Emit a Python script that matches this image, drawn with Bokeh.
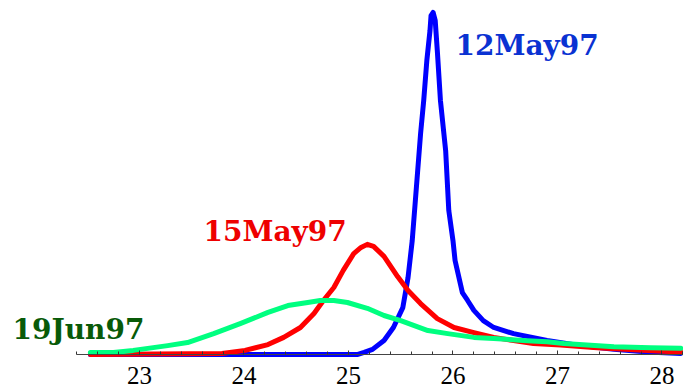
from bokeh.plotting import figure
from bokeh.models import LinearAxis, SingleIntervalTicker, Range1d, Label
from bokeh.embed import file_html
from bokeh.resources import INLINE

# Data (x: position, y: normalised intensity)
blue_x = [22.53, 25.09, 25.15, 25.23, 25.34, 25.43, 25.52, 25.57, 25.61, 25.64, 25.69, 25.72,
          25.75, 25.78, 25.79, 25.81, 25.83, 25.85, 25.88, 25.93, 25.96, 26.00, 26.02, 26.09,
          26.14, 26.20, 26.29, 26.39, 26.58, 26.90, 27.22, 27.54, 27.86, 28.18]
blue_y = [0, 0, 0.006, 0.015, 0.041, 0.079, 0.137, 0.225, 0.333, 0.450, 0.646, 0.743,
          0.860, 0.947, 0.991, 1.0, 0.977, 0.889, 0.743, 0.596, 0.421, 0.333, 0.275, 0.181,
          0.158, 0.129, 0.099, 0.079, 0.061, 0.041, 0.026, 0.015, 0.007, 0.003]

red_x = [22.53, 23.79, 24.01, 24.23, 24.38, 24.54, 24.67, 24.76, 24.86, 24.95, 25.05, 25.12,
         25.18, 25.24, 25.34, 25.47, 25.57, 25.69, 25.85, 26.01, 26.20, 26.39, 26.58, 26.77,
         27.03, 27.38, 27.86, 28.18]
red_y = [0, 0.003, 0.012, 0.029, 0.050, 0.079, 0.120, 0.158, 0.196, 0.246, 0.295, 0.313,
         0.322, 0.316, 0.287, 0.228, 0.187, 0.149, 0.105, 0.079, 0.064, 0.050, 0.041, 0.032,
         0.028, 0.020, 0.012, 0.007]

green_x = [22.53, 22.75, 22.94, 23.27, 23.46, 23.71, 23.97, 24.23, 24.42, 24.61, 24.73, 24.86,
           24.99, 25.18, 25.34, 25.50, 25.76, 25.95, 26.20, 26.39, 26.71, 26.90, 27.06, 27.54,
           27.89, 28.18]
green_y = [0.006, 0.006, 0.012, 0.026, 0.035, 0.061, 0.091, 0.123, 0.143, 0.152, 0.158, 0.158,
           0.152, 0.135, 0.114, 0.099, 0.070, 0.061, 0.050, 0.047, 0.040, 0.037, 0.032, 0.023,
           0.020, 0.018]

series_labels = ["12May97", "15May97", "19Jun97"]

p = figure(frame_width=683, frame_height=391, output_backend="svg", toolbar_location=None,
           x_axis_type=None, y_axis_type=None,
           x_range=Range1d(21.670, 28.206), y_range=Range1d(-0.1082, 1.0351),
           min_border_left=0, min_border_right=0, min_border_top=0, min_border_bottom=0)
p.outline_line_color = None
p.background_fill_color = "white"
p.border_fill_color = "white"

axis = LinearAxis(ticker=SingleIntervalTicker(interval=1, num_minor_ticks=5),
                  fixed_location=0, bounds=(22.397, 28.206))
axis.axis_line_color = "#444444"
axis.axis_line_width = 1
axis.major_tick_in = 4
axis.major_tick_out = 0
axis.minor_tick_in = 3
axis.minor_tick_out = 0
axis.major_tick_line_color = "#333333"
axis.minor_tick_line_color = "#333333"
axis.major_label_text_font = "Liberation Serif"
axis.major_label_text_font_size = "25px"
axis.major_label_text_color = "black"
axis.major_label_standoff = 13
p.add_layout(axis, "below")

common = dict(line_width=5, line_cap="round", line_join="round")
p.line(blue_x, blue_y, line_color="#0000ff", **common)
p.line(red_x, red_y, line_color="#ff0000", **common)
p.line(green_x, green_y, line_color="#00ff80", **common)

lab_style = dict(text_font="DejaVu Serif", text_font_style="bold", text_font_size="28px",
                 text_align="left", text_baseline="alphabetic")
p.add_layout(Label(x=26.024, y=0.9035, text=series_labels[0], text_color="#0a32d2", **lab_style))
p.add_layout(Label(x=23.612, y=0.3596, text=series_labels[1], text_color="#ee0000", **lab_style))
p.add_layout(Label(x=21.785, y=0.0731, text=series_labels[2], text_color="#085a08", **lab_style))

open("out.html", "w").write(file_html(p, INLINE))
